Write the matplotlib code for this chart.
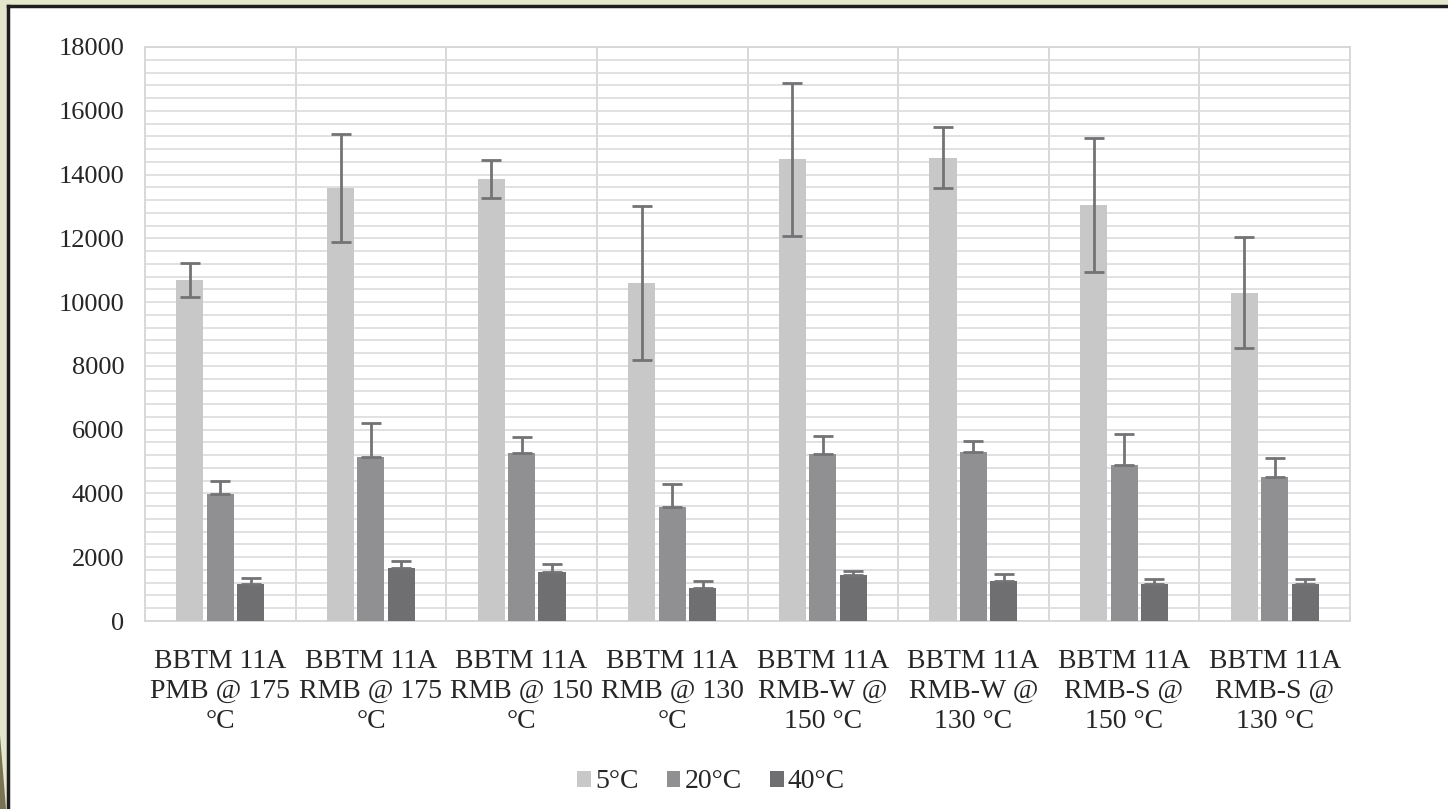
import numpy as np
import matplotlib.pyplot as plt
from matplotlib.patches import Rectangle, Polygon
from matplotlib.lines import Line2D

# data
categories = [
    "BBTM 11A\nPMB @ 175\n°C",
    "BBTM 11A\nRMB @ 175\n°C",
    "BBTM 11A\nRMB @ 150\n°C",
    "BBTM 11A\nRMB @ 130\n°C",
    "BBTM 11A\nRMB-W @\n150 °C",
    "BBTM 11A\nRMB-W @\n130 °C",
    "BBTM 11A\nRMB-S @\n150 °C",
    "BBTM 11A\nRMB-S @\n130 °C",
]
series_names = ["5°C", "20°C", "40°C"]
val_5 = [10700, 13580, 13850, 10600, 14480, 14530, 13050, 10300]
err_5 = [540, 1700, 600, 2400, 2400, 950, 2100, 1750]
val_20 = [3980, 5140, 5260, 3590, 5240, 5290, 4890, 4510]
err_20 = [410, 1080, 520, 700, 570, 370, 960, 600]
val_40 = [1160, 1650, 1550, 1030, 1430, 1270, 1150, 1150]
err_40 = [180, 230, 230, 230, 150, 210, 170, 170]

colors = ["#c8c8c9", "#909092", "#6f6f71"]
serif = "Liberation Serif"

fig = plt.figure(figsize=(14.48, 8.09), dpi=100)
fig.patch.set_facecolor("#e3e7cc")

# white slide panel with dark frame on left / top (drawn behind the axes)
W, H = 1448, 809
fig.patches.append(Rectangle((8 / W, 0), 1 - 8 / W, 1 - 6 / H, transform=fig.transFigure,
                             facecolor="white", edgecolor="none", zorder=-2))
fig.patches.append(Polygon([(0, 1 - 735 / H), (6 / W, 0), (0, 0)], closed=True,
                           transform=fig.transFigure, facecolor="#7a7254", edgecolor="none",
                           zorder=-2))
fig.lines.append(Line2D([7.5 / W, 7.5 / W], [0, 1 - 5.5 / H], transform=fig.transFigure,
                        color="#1e1e1e", lw=2.5, zorder=-1))
fig.lines.append(Line2D([7.5 / W, 1], [1 - 5.5 / H, 1 - 5.5 / H], transform=fig.transFigure,
                        color="#1e1e1e", lw=2.5, zorder=-1))

ax = fig.add_axes([145 / W, 1 - 621 / H, 1205 / W, 574 / H])
x = np.arange(len(categories))
step = 0.202
bw = 0.18
vals = [val_5, val_20, val_40]
errs = [err_5, err_20, err_40]
for i in range(3):
    ax.bar(x + (i - 1) * step, vals[i], width=bw, color=colors[i], label=series_names[i],
           zorder=3, yerr=[np.zeros(len(errs[i])), errs[i]] if i else errs[i],
           error_kw=dict(ecolor="#737375", elinewidth=2, capsize=7, capthick=2, zorder=4))

ax.set_xlim(-0.5, len(categories) - 0.5)
ax.set_ylim(0, 18000)
ax.set_yticks(np.arange(0, 18001, 2000))
ax.set_yticks(np.arange(0, 18001, 400), minor=True)
ax.set_xticks(x)
ax.set_xticklabels(categories, fontfamily=serif, fontsize=20, color="#262626", linespacing=1.28)
for lab in ax.get_yticklabels():
    lab.set_fontfamily(serif)
    lab.set_fontsize(19)
    lab.set_color("#262626")
ax.tick_params(axis="both", which="both", length=0)
ax.tick_params(axis="y", pad=15)
ax.tick_params(axis="x", pad=20)
ax.grid(axis="y", which="both", color="#dcdcdc", lw=1.2, zorder=0)
for b in np.arange(0.5, len(categories) - 0.5, 1):
    ax.axvline(b, color="#d6d6d6", lw=1.3, zorder=0)
for s in ax.spines.values():
    s.set_color("#d6d6d6")
    s.set_linewidth(1.3)

fig.legend(loc="center", bbox_to_anchor=(711 / W, 1 - 782 / H), ncol=3, frameon=False,
           prop={"family": serif, "size": 20}, handlelength=0.5, handleheight=0.5,
           handletextpad=0.15, columnspacing=1.0, labelcolor="#262626")

fig.savefig("out.png", dpi=100, facecolor=fig.get_facecolor())
